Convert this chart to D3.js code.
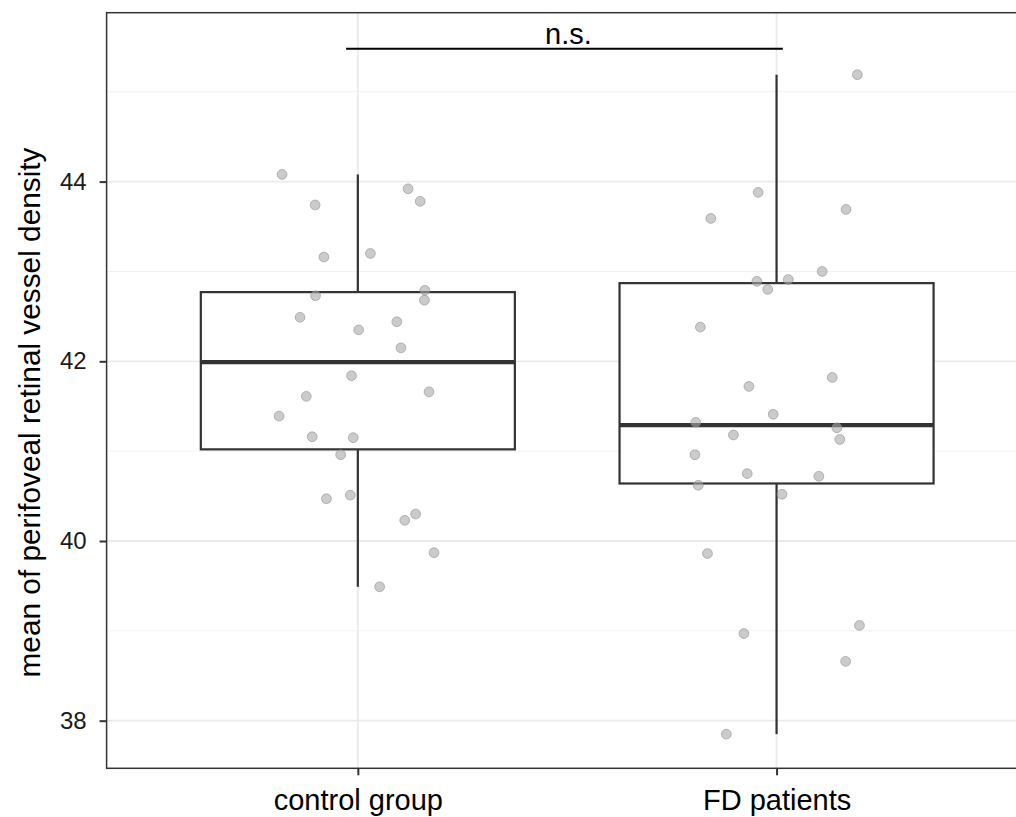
<!DOCTYPE html>
<html>
<head>
<meta charset="utf-8">
<script src="https://cdn.jsdelivr.net/npm/d3@7"></script>
<style>
  body { margin: 0; background: #fff; }
  text { font-family: "Liberation Sans", Arial, Helvetica, sans-serif; }
</style>
</head>
<body>
<div id="chart"></div>
<script>
// groups and summary stats
const groups = ["control group", "FD patients"];
const q1 = [41.02, 40.64];
const median = [41.99, 41.29];
const q3 = [42.77, 42.87];
const whiskerLow = [39.49, 37.85];
const whiskerHigh = [44.08, 45.19];

// individual measurements (value) and horizontal jitter (in group steps)
const controlValues = [44.08, 43.74, 43.92, 43.78, 43.16, 43.20, 42.73, 42.79, 42.68, 42.49, 42.35, 42.44, 42.15,
                       41.84, 41.61, 41.66, 41.39, 41.16, 41.15, 40.96, 40.47, 40.51, 40.30, 40.23, 39.87, 39.49];
const controlJitter = [-0.181, -0.102, 0.120, 0.149, -0.081, 0.030, -0.101, 0.160, 0.159, -0.138, 0.002, 0.093, 0.103,
                       -0.015, -0.123, 0.170, -0.188, -0.109, -0.011, -0.041, -0.075, -0.018, 0.138, 0.112, 0.182, 0.052];
const fdValues = [45.19, 43.88, 43.59, 43.69, 43.00, 42.89, 42.91, 42.80, 42.38, 41.82, 41.72, 41.41, 41.32,
                  41.26, 41.18, 41.13, 40.96, 40.75, 40.72, 40.62, 40.52, 39.86, 39.06, 38.97, 38.66, 37.85];
const fdJitter = [0.193, -0.044, -0.157, 0.166, 0.109, -0.047, 0.028, -0.021, -0.182, 0.133, -0.066, -0.008, -0.193,
                  0.144, -0.103, 0.151, -0.195, -0.070, 0.101, -0.187, 0.013, -0.165, 0.198, -0.078, 0.165, -0.120];

const majorTicks = [38, 40, 42, 44];
const minorTicks = [39, 41, 43, 45];
const yDomain = [37.47, 45.88];
const sigLevel = 45.48;
const sigFrom = -0.028, sigTo = 2.015; // bracket ends, in group positions
const sigLabel = "n.s.";
const yTitle = "mean of perifoveal retinal vessel density";

const width = 1016;
const height = 817;
const panel = {left: 106.6, right: 1027.8, top: 12.7, bottom: 768.3};

const svg = d3.select("#chart")
              .append("svg")
              .attr("width", width)
              .attr("height", height);

const x = d3.scalePoint()
            .domain(groups)
            .range([panel.left, panel.right])
            .padding(0.6);
const step = x.step();
const xPos = d3.scaleLinear().domain([1, 2]).range([x(groups[0]), x(groups[1])]);

const y = d3.scaleLinear()
            .domain(yDomain)
            .range([panel.bottom, panel.top]);

// grid
const grid = svg.append("g");
grid.selectAll(".minor")
    .data(minorTicks)
    .enter()
    .append("line")
    .attr("x1", panel.left).attr("x2", panel.right)
    .attr("y1", d => y(d)).attr("y2", d => y(d))
    .attr("stroke", "#f2f2f2")
    .attr("stroke-width", 1);
grid.selectAll(".major")
    .data(majorTicks)
    .enter()
    .append("line")
    .attr("x1", panel.left).attr("x2", panel.right)
    .attr("y1", d => y(d)).attr("y2", d => y(d))
    .attr("stroke", "#ebebeb")
    .attr("stroke-width", 1.8);
grid.selectAll(".vmajor")
    .data(groups)
    .enter()
    .append("line")
    .attr("x1", d => x(d)).attr("x2", d => x(d))
    .attr("y1", panel.top).attr("y2", panel.bottom)
    .attr("stroke", "#ebebeb")
    .attr("stroke-width", 1.8);

// boxplots
const boxes = groups.map((g, i) => ({g, q1: q1[i], med: median[i], q3: q3[i], lo: whiskerLow[i], hi: whiskerHigh[i]}));
const bw = step * 0.75;
const box = svg.append("g").selectAll("g")
               .data(boxes)
               .enter()
               .append("g");
box.append("line")
   .attr("x1", d => x(d.g)).attr("x2", d => x(d.g))
   .attr("y1", d => y(d.hi)).attr("y2", d => y(d.q3))
   .attr("stroke", "#333").attr("stroke-width", 2.2);
box.append("line")
   .attr("x1", d => x(d.g)).attr("x2", d => x(d.g))
   .attr("y1", d => y(d.q1)).attr("y2", d => y(d.lo))
   .attr("stroke", "#333").attr("stroke-width", 2.2);
box.append("rect")
   .attr("x", d => x(d.g) - bw / 2)
   .attr("width", bw)
   .attr("y", d => y(d.q3))
   .attr("height", d => y(d.q1) - y(d.q3))
   .attr("fill", "#fff")
   .attr("stroke", "#333")
   .attr("stroke-width", 2.2);
box.append("line")
   .attr("x1", d => x(d.g) - bw / 2).attr("x2", d => x(d.g) + bw / 2)
   .attr("y1", d => y(d.med)).attr("y2", d => y(d.med))
   .attr("stroke", "#333").attr("stroke-width", 4.2);

// jittered points
const points = [];
controlValues.forEach((v, i) => points.push({g: 0, v, j: controlJitter[i]}));
fdValues.forEach((v, i) => points.push({g: 1, v, j: fdJitter[i]}));
svg.append("g").selectAll("circle")
   .data(points)
   .enter()
   .append("circle")
   .attr("cx", d => x(groups[d.g]) + d.j * step)
   .attr("cy", d => y(d.v))
   .attr("r", 4.9)
   .attr("fill", "#a8a8a8")
   .attr("fill-opacity", 0.6)
   .attr("stroke", "#8a8a8a")
   .attr("stroke-opacity", 0.55)
   .attr("stroke-width", 1);

// significance bracket
svg.append("line")
   .attr("x1", xPos(1 + sigFrom)).attr("x2", xPos(sigTo))
   .attr("y1", y(sigLevel)).attr("y2", y(sigLevel))
   .attr("stroke", "#000")
   .attr("stroke-width", 2);
svg.append("text")
   .attr("x", (xPos(1 + sigFrom) + xPos(sigTo)) / 2 + 4)
   .attr("y", y(sigLevel) - 5)
   .attr("text-anchor", "middle")
   .attr("font-size", 29)
   .attr("fill", "#000")
   .text(sigLabel);

// panel border
svg.append("rect")
   .attr("x", panel.left).attr("y", panel.top)
   .attr("width", panel.right - panel.left)
   .attr("height", panel.bottom - panel.top)
   .attr("fill", "none")
   .attr("stroke", "#333")
   .attr("stroke-width", 1.5);

// axes
const yAxis = svg.append("g")
                 .attr("transform", `translate(${panel.left},0)`)
                 .call(d3.axisLeft(y).tickValues(majorTicks).tickSize(7).tickPadding(13).tickFormat(d3.format("d")));
yAxis.select(".domain").remove();
yAxis.selectAll("line").attr("stroke", "#333").attr("stroke-width", 2);
yAxis.selectAll("text")
     .attr("font-size", 24)
     .attr("fill", "#1a1a1a")
     .attr("font-family", "Liberation Sans, Arial, sans-serif");

const xAxis = svg.append("g")
                 .attr("transform", `translate(0,${panel.bottom})`)
                 .call(d3.axisBottom(x).tickSize(7));
xAxis.select(".domain").remove();
xAxis.selectAll("line").attr("stroke", "#333").attr("stroke-width", 2);
xAxis.selectAll("text")
     .attr("y", 41.7)
     .attr("dy", 0)
     .attr("font-size", 29)
     .attr("fill", "#000")
     .attr("font-family", "Liberation Sans, Arial, sans-serif");

svg.append("text")
   .attr("transform", `translate(40,${(panel.top + panel.bottom) / 2 + 22}) rotate(-90)`)
   .attr("text-anchor", "middle")
   .attr("font-size", 29.8)
   .attr("fill", "#000")
   .text(yTitle);
</script>
</body>
</html>
